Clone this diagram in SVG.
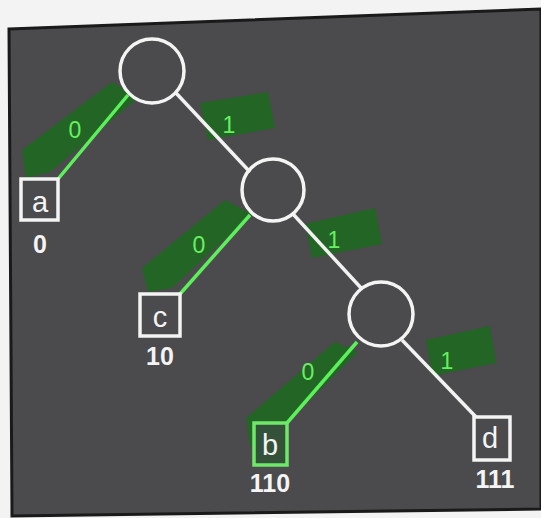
<svg xmlns="http://www.w3.org/2000/svg" width="541" height="518" viewBox="0 0 541 518">
<style>
.node{fill:none;stroke:#f4f4f4;stroke-width:3.5}
.leaf{fill:none;stroke:#f4f4f4;stroke-width:3.5}
.leafg{fill:#34523a;stroke:#6fe86a;stroke-width:3.5}
.ew{stroke:#f2f2f2;stroke-width:3.5;fill:none}
.eg{stroke:#5cf05a;stroke-width:3.5;fill:none}
.hl{fill:#1c6a1e;opacity:0.85}
.bit{font-family:"Liberation Sans",Arial,sans-serif;font-size:23px;fill:#66f060;text-anchor:middle}
.sym{font-family:"Liberation Sans",Arial,sans-serif;font-size:29px;fill:#f4f4f4;text-anchor:middle}
.code{font-family:"Liberation Sans",Arial,sans-serif;font-size:25px;font-weight:bold;fill:#f4f4f4;text-anchor:middle}
</style>
<rect width="541" height="518" fill="#f3f3f3"/>
<polygon points="9,29 541,9 541,509 12,516" fill="#4b4a4c" stroke="#1a1a1a" stroke-width="3"/>
<g id="highlights">
<polygon class="hl" points="22,150 112,82 138,98 50,172 26,178"/>
<polygon class="hl" points="200,103 268,92 275,128 208,140"/>
<polygon class="hl" points="142,268 225,200 252,214 172,288 148,292"/>
<polygon class="hl" points="305,224 375,208 382,244 312,258"/>
<polygon class="hl" points="246,418 335,342 358,352 270,440 250,446"/>
<polygon class="hl" points="426,340 490,326 496,363 432,376"/>
</g>
<g id="connectors">
<line class="eg" x1="128" y1="95" x2="58" y2="179"/>
<line class="ew" x1="176" y1="93" x2="250" y2="172"/>
<line class="eg" x1="250" y1="215" x2="180" y2="294"/>
<line class="ew" x1="293" y1="214" x2="362" y2="289"/>
<line class="eg" x1="357" y1="342" x2="287" y2="423"/>
<line class="ew" x1="402" y1="340" x2="476" y2="417"/>
<text class="bit" x="75" y="138">0</text>
<text class="bit" x="229" y="133">1</text>
<text class="bit" x="199" y="253">0</text>
<text class="bit" x="334" y="248">1</text>
<text class="bit" x="308" y="380">0</text>
<text class="bit" x="447" y="369">1</text>
</g>
<g id="n-root"><circle class="node" cx="152" cy="71" r="32"/></g>
<g id="n-1"><circle class="node" cx="273" cy="190" r="31"/></g>
<g id="n-11"><circle class="node" cx="381" cy="314" r="32"/></g>
<g id="leaf-a"><rect class="leaf" x="21" y="179" width="37" height="41"/><text class="sym" x="40" y="212">a</text><text class="code" x="40" y="253">0</text></g>
<g id="leaf-c"><rect class="leaf" x="140" y="294" width="40" height="42"/><text class="sym" x="160" y="327">c</text><text class="code" x="160" y="365">10</text></g>
<g id="leaf-b"><rect class="leafg" x="254" y="423" width="33" height="42"/><text class="sym" x="270" y="455">b</text><text class="code" x="270" y="492">110</text></g>
<g id="leaf-d"><rect class="leaf" x="474" y="417" width="36" height="43"/><text class="sym" x="490" y="448">d</text><text class="code" x="495" y="488">111</text></g>
</svg>
